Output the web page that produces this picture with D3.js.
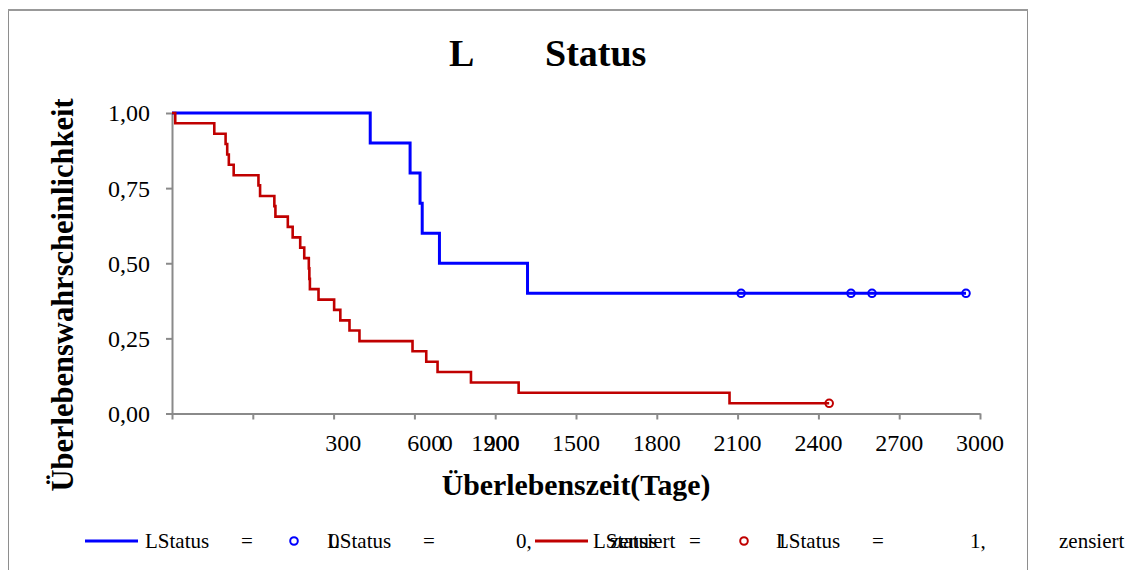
<!DOCTYPE html>
<html>
<head>
<meta charset="utf-8">
<script src="https://cdn.jsdelivr.net/npm/d3@7"></script>
<style>
  body { margin: 0; background: #fff; }
  text { font-family: "Liberation Serif", "Times New Roman", serif; fill: #000; }
</style>
</head>
<body>
<div id="my_dataviz"></div>
<script>

// Kaplan-Meier data, LStatus = 0 (blue)
var status0Time = [0, 736, 884, 921, 929, 993, 1320, 2948];
var status0Surv = [1.00, 0.90, 0.80, 0.70, 0.60, 0.50, 0.40, 0.40];
var status0Censored = [2113, 2521, 2599, 2948];
var status0CensoredSurv = [0.40, 0.40, 0.40, 0.40];

// LStatus = 1 (red)
var status1Time = [0, 12, 157, 199, 205, 211, 229, 321, 327, 380, 384, 430, 448, 476, 491,
  508, 510, 512, 544, 602, 625, 659, 696, 893, 944, 986, 1110, 1287, 2070, 2440];
var status1Surv = [1.000, 0.966, 0.931, 0.897, 0.862, 0.828, 0.793, 0.759, 0.724, 0.690, 0.655,
  0.621, 0.586, 0.552, 0.517, 0.483, 0.448, 0.414, 0.379, 0.345, 0.310, 0.276, 0.241, 0.207,
  0.172, 0.138, 0.103, 0.069, 0.034, 0.034];
var status1Censored = [2440];
var status1CensoredSurv = [0.034];

// axis ticks
var yTicks = [0, 0.25, 0.5, 0.75, 1];
var xTicks = [0, 300, 600, 900, 1200, 1500, 1800, 2100, 2400, 2700, 3000];
// the x tick labels are printed shifted in the original, keep them where they stand
var xLabelText = ["300", "600", "0", "1200", "900", "1500", "1800", "2100", "2400", "2700", "3000"];
var xLabelAt = [636, 940, 1020, 1200, 1224, 1500, 1800, 2100, 2400, 2700, 3000];

var W = 1136, H = 570;
var margin = {top: 113, right: 156, bottom: 156, left: 172};

var svg = d3.select("#my_dataviz").append("svg")
    .attr("width", W)
    .attr("height", H);

// chart frame
svg.append("rect")
    .attr("x", 8.5).attr("y", 10.5)
    .attr("width", 1019).attr("height", 580)
    .attr("fill", "none")
    .attr("stroke", "#8e8e8e")
    .attr("stroke-width", 1);
svg.append("line")
    .attr("x1", 8).attr("x2", 1028)
    .attr("y1", 10).attr("y2", 10)
    .attr("stroke", "#999")
    .attr("stroke-width", 2);

var x = d3.scaleLinear().domain([0, 3000]).range([margin.left, W - margin.right]);
var y = d3.scaleLinear().domain([0, 1]).range([H - margin.bottom - 0.5, margin.top]);

// y axis
var yAxis = svg.append("g")
    .attr("transform", "translate(" + margin.left + ",0)")
    .call(d3.axisLeft(y)
      .tickValues(yTicks)
      .tickSize(6)
      .tickSizeOuter(0)
      .tickFormat(function(d) { return d3.format(".2f")(d).replace(".", ","); }));

// x axis, labels are drawn below
var xAxis = svg.append("g")
    .attr("transform", "translate(0," + y(0) + ")")
    .call(d3.axisBottom(x)
      .tickValues(xTicks)
      .tickSize(6)
      .tickSizeOuter(0)
      .tickFormat(""));

svg.selectAll(".domain, .tick line")
    .attr("stroke", "#8a8a8a")
    .attr("stroke-width", 2);

yAxis.selectAll(".tick text")
    .attr("x", -22)
    .attr("dy", "0.33em")
    .style("font-family", "Liberation Serif")
    .style("font-size", "24px")
    .attr("fill", "#000");

svg.append("g")
  .selectAll("text")
  .data(xLabelText)
  .enter().append("text")
    .attr("x", function(d, i) { return x(xLabelAt[i]); })
    .attr("y", y(0) + 37)
    .attr("text-anchor", "middle")
    .style("font-size", "24px")
    .text(function(d) { return d; });

// step curves
var step = d3.line()
    .x(function(d) { return x(d[0]); })
    .y(function(d) { return y(d[1]); })
    .curve(d3.curveStepAfter);

var series = [
  {time: status0Time, surv: status0Surv, cens: status0Censored, censSurv: status0CensoredSurv, color: "#0000ff", width: 3},
  {time: status1Time, surv: status1Surv, cens: status1Censored, censSurv: status1CensoredSurv, color: "#c00000", width: 2.6}
];

series.forEach(function(s) {
  svg.append("path")
      .datum(d3.zip(s.time, s.surv))
      .attr("d", step)
      .attr("fill", "none")
      .attr("stroke", s.color)
      .attr("stroke-width", s.width);
  svg.append("g")
    .selectAll("circle")
    .data(d3.zip(s.cens, s.censSurv))
    .enter().append("circle")
      .attr("cx", function(d) { return x(d[0]); })
      .attr("cy", function(d) { return y(d[1]); })
      .attr("r", 3.8)
      .attr("fill", "none")
      .attr("stroke", s.color)
      .attr("stroke-width", 2);
});

// title
svg.append("text")
    .attr("x", 449).attr("y", 66)
    .style("font-size", "38px").style("font-weight", "bold")
    .text("L");
svg.append("text")
    .attr("x", 545).attr("y", 66)
    .style("font-size", "38px").style("font-weight", "bold")
    .text("Status");

// axis titles
svg.append("text")
    .attr("x", x(1500)).attr("y", 495)
    .attr("text-anchor", "middle")
    .style("font-size", "29.8px").style("font-weight", "bold")
    .text("Überlebenszeit(Tage)");

svg.append("text")
    .attr("transform", "translate(73,295) rotate(-90)")
    .attr("text-anchor", "middle")
    .style("font-size", "30.5px").style("font-weight", "bold")
    .text("Überlebenswahrscheinlichkeit");

// legend, the label pieces are spread out like in the original
var legend = [
  {sym: "line", sx: 85, color: "#0000ff", tx: 145, parts: ["LStatus", "=", "0"], at: [0, 96, 184]},
  {sym: "circle", sx: 294, color: "#0000ff", tx: 327, parts: ["LStatus", "=", "0,", "zensiert"], at: [0, 96, 189, 283]},
  {sym: "line", sx: 535, color: "#c00000", tx: 593, parts: ["LStatus", "=", "1"], at: [0, 96, 184]},
  {sym: "circle", sx: 744, color: "#c00000", tx: 776, parts: ["LStatus", "=", "1,", "zensiert"], at: [0, 96, 194, 283]}
];
var ly = 541;
legend.forEach(function(l) {
  if (l.sym == "line") {
    svg.append("line")
        .attr("x1", l.sx).attr("x2", l.sx + 53)
        .attr("y1", ly).attr("y2", ly)
        .attr("stroke", l.color)
        .attr("stroke-width", 3);
  } else {
    svg.append("circle")
        .attr("cx", l.sx).attr("cy", ly)
        .attr("r", 3.8)
        .attr("fill", "none")
        .attr("stroke", l.color)
        .attr("stroke-width", 2);
  }
  l.parts.forEach(function(p, i) {
    svg.append("text")
        .attr("x", l.tx + l.at[i]).attr("y", ly + 7)
        .style("font-size", "21px")
        .text(p);
  });
});

</script>
</body>
</html>
